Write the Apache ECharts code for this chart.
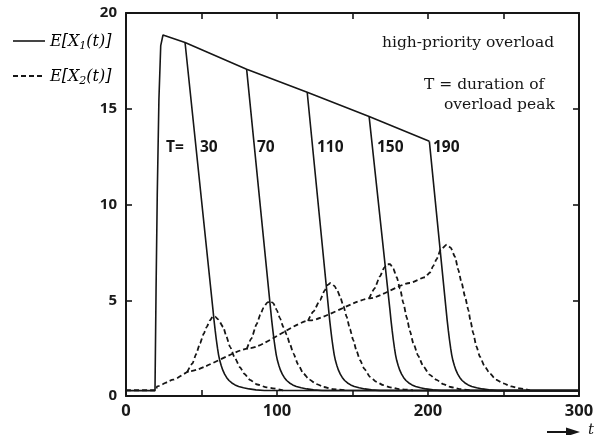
<!DOCTYPE html>
<html>
<head>
<meta charset="utf-8">
<script src="https://cdn.jsdelivr.net/npm/echarts@6/dist/echarts.min.js"></script>
<style>
  html, body { margin: 0; padding: 0; background: #fff; }
  #chart { width: 610px; height: 435px; }
</style>
</head>
<body>
<div id="chart"></div>
<script>
// values, as [t, value] pairs

// E[X1(t)] : common rise + decreasing plateau up to the last branch point
const x1Plateau = [[0,0.28],[19.2,0.28],[19.9,5.5],[20.7,10.5],[21.8,15.5],[23.0,18.3],[24.5,18.85],[25.8,18.9],
  [39.1,18.46],[79.9,17.06],[120,15.86],[161,14.6],[200.9,13.3]];

// E[X1(t)] : drop after the end of the overload peak, one per T
const x1T30  = [[39.1,18.46],[57.6,4.5],[58.3,3.95],[59.1,3.4],[59.8,2.95],[60.6,2.5],[61.3,2.15],[62.1,1.85],[63.1,1.58],[64.1,1.35],[65.3,1.14],[66.6,0.97],[68.2,0.81],[70.1,0.68],[72.2,0.58],[74.6,0.5],[77.8,0.43],[81.6,0.37],[86,0.32],[91.6,0.29],[300,0.28]];
const x1T70  = [[79.9,17.06],[95.8,4.5],[96.5,3.95],[97.3,3.4],[98,2.95],[98.8,2.5],[99.5,2.15],[100.3,1.85],[101.3,1.58],[102.3,1.35],[103.5,1.14],[104.8,0.97],[106.4,0.81],[108.3,0.68],[110.4,0.58],[112.8,0.5],[116,0.43],[119.8,0.37],[124.2,0.32],[129.8,0.29],[300,0.28]];
const x1T110 = [[120,15.86],[134.2,4.5],[134.9,3.95],[135.7,3.4],[136.4,2.95],[137.2,2.5],[137.9,2.15],[138.7,1.85],[139.7,1.58],[140.7,1.35],[141.9,1.14],[143.2,0.97],[144.8,0.81],[146.7,0.68],[148.8,0.58],[151.2,0.5],[154.4,0.43],[158.2,0.37],[162.6,0.32],[168.2,0.29],[300,0.28]];
const x1T150 = [[161,14.6],[174.8,4.5],[175.5,3.95],[176.3,3.4],[177,2.95],[177.8,2.5],[178.5,2.15],[179.3,1.85],[180.3,1.58],[181.3,1.35],[182.5,1.14],[183.8,0.97],[185.4,0.81],[187.3,0.68],[189.4,0.58],[191.8,0.5],[195,0.43],[198.8,0.37],[203.2,0.32],[208.8,0.29],[300,0.28]];
const x1T190 = [[200.9,13.3],[212,4.5],[212.7,3.95],[213.5,3.4],[214.2,2.95],[215,2.5],[215.7,2.15],[216.5,1.85],[217.5,1.58],[218.5,1.35],[219.7,1.14],[221,0.97],[222.6,0.81],[224.5,0.68],[226.6,0.58],[229,0.5],[232.2,0.43],[236,0.37],[240.4,0.32],[246,0.29],[300,0.28]];

// E[X2(t)] : ramp during the overload, then the T=190 bump
const x2Ramp = [[0,0.3],[20,0.3],[20.5,0.5],[31.3,0.85],[42.4,1.3],[82.1,2.5],[121.9,3.95],[161.6,5.1],[188,5.9],[198,6.2],
  [201.3,6.45],[203.5,6.8],[205.7,7.15],[208.5,7.65],[212.4,7.9],[215,7.75],[217.9,7.27],[220,6.6],[222.3,5.9],[224.5,5.2],
  [226.7,4.5],[228.3,3.85],[230,3.27],[232,2.6],[234.4,2.05],[237.5,1.55],[241,1.18],[245,0.85],[249.9,0.66],[255,0.5],[260.9,0.4],[267.5,0.3]];

// E[X2(t)] : bumps for the shorter peaks
const x2T30  = [[40.5,1.25],[44,1.7],[46.5,2.2],[49,2.75],[51.5,3.25],[53.4,3.6],[55.6,3.95],[57.5,4.15],[59,4.15],[61,4.0],[64.4,3.6],[66.5,3.1],[68.9,2.57],[72,2.0],[75.5,1.5],[78.5,1.15],[82.1,0.84],[87,0.6],[93.2,0.45],[104,0.3]];
const x2T70  = [[80,2.45],[83,3.0],[86.5,3.75],[89,4.25],[91,4.6],[93.5,4.88],[95.5,4.95],[97.5,4.85],[99.8,4.5],[102,4.05],[104.2,3.6],[106.4,3.2],[108.6,2.7],[110.8,2.23],[114,1.65],[117.4,1.18],[121.5,0.85],[126.3,0.62],[131,0.47],[137,0.36],[145,0.3]];
const x2T110 = [[120.5,3.92],[124,4.4],[128.5,5.0],[131.5,5.5],[133.5,5.8],[135.5,5.9],[138,5.75],[140,5.5],[141.7,5.2],[144,4.7],[146.1,4.14],[148.3,3.5],[150.5,2.92],[152.7,2.35],[154.9,1.88],[158,1.4],[161.6,1.0],[165.5,0.75],[170.4,0.57],[175,0.45],[181,0.36],[190,0.3]];
const x2T150 = [[161,5.08],[164.5,5.6],[168.2,6.25],[171,6.7],[173,6.88],[175,6.88],[177,6.65],[179.3,6.2],[181.5,5.6],[183.7,4.85],[185.9,4.1],[188,3.4],[190.3,2.75],[193.5,2.1],[196.9,1.55],[201,1.12],[205.7,0.84],[210,0.62],[215,0.47],[221,0.36],[228,0.3]];

const peakLabels = ['30', '70', '110', '150', '190'];
const xTickLabels = [0, 100, 200, 300];
const yTickLabels = [0, 5, 10, 15, 20];

const ink = '#161616';
const serif = '"DejaVu Serif", "Liberation Serif", serif';
const sans = '"Open Sans", "DejaVu Sans", sans-serif';

const solidStyle = {color: ink, width: 1.6, type: 'solid'};
const dashStyle = {color: ink, width: 1.8, type: [5, 3]};

function curve(data, lineStyle, smooth) {
  return {
    type: 'line', data: data, symbol: 'none', silent: true,
    smooth: smooth, smoothMonotone: 'x',
    lineStyle: lineStyle
  };
}

function frameAxis(pos, isX, showLabels) {
  const ax = {
    type: 'value', position: pos,
    min: 0, max: isX ? 300 : 20, interval: isX ? 50 : 5,
    axisLine: {show: true, onZero: false, lineStyle: {color: ink, width: 2}},
    axisTick: {show: true, inside: true, length: 6, lineStyle: {color: ink, width: 1.6}},
    splitLine: {show: false},
    axisLabel: {show: showLabels, color: '#1a1a1a', fontFamily: sans, fontWeight: 'bold'}
  };
  if (isX) {
    ax.axisLabel.fontSize = 16.5;
    ax.axisLabel.margin = 7;
    ax.axisLabel.formatter = v => xTickLabels.indexOf(v) >= 0 ? String(v) : '';
  } else {
    ax.axisLabel.fontSize = 15;
    ax.axisLabel.margin = 9;
    ax.axisLabel.formatter = v => yTickLabels.indexOf(v) >= 0 ? String(v) : '';
  }
  return ax;
}

const legendRich = {
  i: {fontFamily: serif, fontStyle: 'italic', fontSize: 16, color: ink},
  s: {fontFamily: serif, fontStyle: 'italic', fontSize: 11, color: ink, verticalAlign: 'bottom', padding: [8, 0, 0, 0]}
};

// positions of the peak-duration labels (pixels)
const labelX = [200, 257, 317, 377, 433];

const graphics = [
  {type: 'line', shape: {x1: 13, y1: 41, x2: 45, y2: 41}, style: {stroke: ink, lineWidth: 1.6}},
  {type: 'line', shape: {x1: 13, y1: 76, x2: 45, y2: 76}, style: {stroke: ink, lineWidth: 1.8, lineDash: [5, 3]}},
  {type: 'text', x: 50, y: 42, style: {text: '{i|E[X}{s|1}{i|(t)]}', rich: legendRich, textVerticalAlign: 'middle'}},
  {type: 'text', x: 50, y: 77, style: {text: '{i|E[X}{s|2}{i|(t)]}', rich: legendRich, textVerticalAlign: 'middle'}},
  {type: 'text', x: 382, y: 43, style: {text: 'high-priority overload', font: '15.5px ' + serif, fill: ink, textVerticalAlign: 'middle'}},
  {type: 'text', x: 424, y: 85, style: {text: 'T = duration of', font: '15.5px ' + serif, fill: ink, textVerticalAlign: 'middle'}},
  {type: 'text', x: 444, y: 105, style: {text: 'overload peak', font: '15.5px ' + serif, fill: ink, textVerticalAlign: 'middle'}},
  {type: 'text', x: 166, y: 148, style: {text: 'T=', font: 'bold 15.5px ' + sans, fill: ink, textVerticalAlign: 'middle'}},
  {type: 'line', shape: {x1: 547, y1: 432, x2: 570, y2: 432}, style: {stroke: ink, lineWidth: 2}},
  {type: 'polygon', shape: {points: [[566, 427.5], [580, 432], [566, 436.5]]}, style: {fill: ink}},
  {type: 'text', x: 588, y: 430, style: {text: 't', font: 'italic 15px ' + serif, fill: ink, textVerticalAlign: 'middle'}}
];
peakLabels.forEach((lab, i) => {
  graphics.push({type: 'text', x: labelX[i], y: 148,
    style: {text: lab, font: 'bold 15.5px ' + sans, fill: ink, textVerticalAlign: 'middle'}});
});

const chart = echarts.init(document.getElementById('chart'), null, {renderer: 'canvas'});
chart.setOption({
  animation: false,
  backgroundColor: '#ffffff',
  grid: {left: 126, right: 31, top: 13, bottom: 39, containLabel: false},
  xAxis: [frameAxis('bottom', true, true), frameAxis('top', true, false)],
  yAxis: [frameAxis('left', false, true), frameAxis('right', false, false)],
  series: [
    curve(x1Plateau, solidStyle, false),
    curve(x1T30, solidStyle, false),
    curve(x1T70, solidStyle, false),
    curve(x1T110, solidStyle, false),
    curve(x1T150, solidStyle, false),
    curve(x1T190, solidStyle, false),
    curve(x2Ramp, dashStyle, 0.2),
    curve(x2T30, dashStyle, 0.2),
    curve(x2T70, dashStyle, 0.2),
    curve(x2T110, dashStyle, 0.2),
    curve(x2T150, dashStyle, 0.2)
  ],
  graphic: graphics
});
</script>
</body>
</html>
